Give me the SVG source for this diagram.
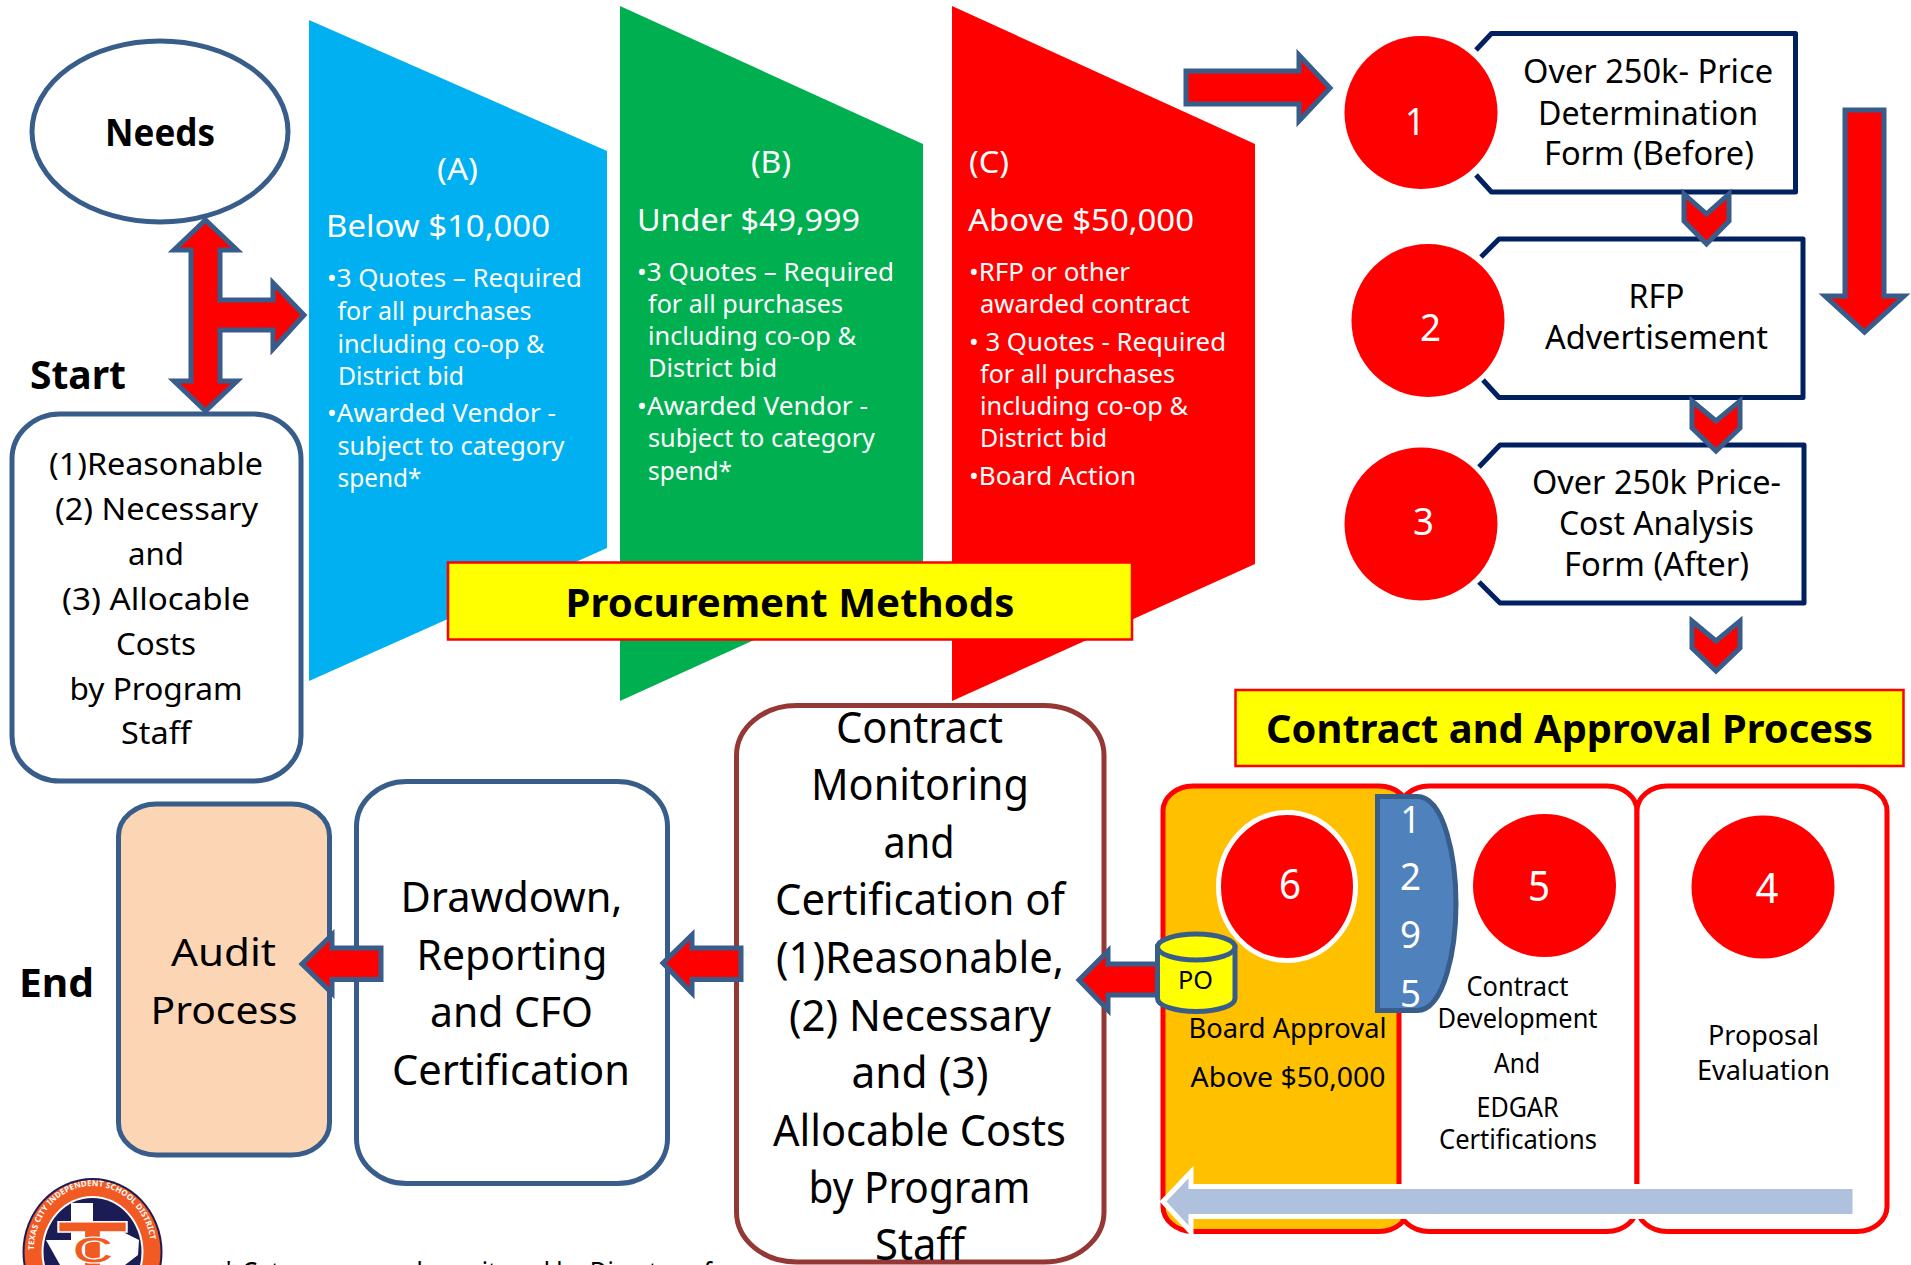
<svg xmlns="http://www.w3.org/2000/svg" width="1911" height="1265" viewBox="0 0 1911 1265">
<style>
text{font-family:"Noto Sans","Open Sans","Liberation Sans",sans-serif;fill:#000}
.w{fill:#fff}
.b{font-weight:700}
.s{fill:#fff;stroke:#385d8a;stroke-width:5}
.arr{fill:#f00;stroke:#385d8a;stroke-width:5}
.nv{fill:#fff;stroke:#002060;stroke-width:5;stroke-linejoin:round}
.pn{stroke:#f00;stroke-width:5}
.lb{fill:#ff0;stroke:#f00;stroke-width:2.5}
.dot{fill:#f00}
.f25{font-size:25px}.f31{font-size:31px}.f30{font-size:30px}.f32{font-size:32px}.f27{font-size:27px}.f39{font-size:39px}.f41{font-size:41px}.f43{font-size:43px}
</style>
<g id="method-a">
<polygon points="309,20 607,151 607,548 309,681" fill="#00b0f0"/>
<text class="w f31" x="437" y="180" textLength="41" lengthAdjust="spacingAndGlyphs">(A)</text>
<text class="w f31" x="326" y="237" textLength="224" lengthAdjust="spacingAndGlyphs">Below $10,000</text>
<g class="f25">
<text class="w" x="327" y="287" textLength="255" lengthAdjust="spacingAndGlyphs">•3 Quotes – Required</text>
<text class="w" x="337.500" y="319.500" textLength="194" lengthAdjust="spacingAndGlyphs">for all purchases</text>
<text class="w" x="337.500" y="352.500" textLength="207" lengthAdjust="spacingAndGlyphs">including co-op &amp;</text>
<text class="w" x="338" y="384.500" textLength="126" lengthAdjust="spacingAndGlyphs">District bid</text>
<text class="w" x="327" y="421.500" textLength="229" lengthAdjust="spacingAndGlyphs">•Awarded Vendor -</text>
<text class="w" x="337.500" y="454.500" textLength="227" lengthAdjust="spacingAndGlyphs">subject to category</text>
<text class="w" x="337.500" y="486.500" textLength="84" lengthAdjust="spacingAndGlyphs">spend*</text>
</g>
</g>
<g id="method-b">
<polygon points="620,6 923,144 923,563 620,701" fill="#00b050"/>
<text class="w f31" x="751" y="173" textLength="40" lengthAdjust="spacingAndGlyphs">(B)</text>
<text class="w f31" x="637" y="230.500" textLength="223" lengthAdjust="spacingAndGlyphs">Under $49,999</text>
<g class="f25">
<text class="w" x="637" y="281" textLength="257" lengthAdjust="spacingAndGlyphs">•3 Quotes – Required</text>
<text class="w" x="648" y="313" textLength="195" lengthAdjust="spacingAndGlyphs">for all purchases</text>
<text class="w" x="648" y="345" textLength="208" lengthAdjust="spacingAndGlyphs">including co-op &amp;</text>
<text class="w" x="648" y="377" textLength="129" lengthAdjust="spacingAndGlyphs">District bid</text>
<text class="w" x="637" y="415" textLength="231" lengthAdjust="spacingAndGlyphs">•Awarded Vendor -</text>
<text class="w" x="648" y="447" textLength="227" lengthAdjust="spacingAndGlyphs">subject to category</text>
<text class="w" x="648" y="480" textLength="84" lengthAdjust="spacingAndGlyphs">spend*</text>
</g>
</g>
<g id="method-c">
<polygon points="952,6 1255,144 1255,564 952,701" fill="#f00"/>
<text class="w f31" x="969" y="173" textLength="40" lengthAdjust="spacingAndGlyphs">(C)</text>
<text class="w f31" x="968" y="230.500" textLength="226" lengthAdjust="spacingAndGlyphs">Above $50,000</text>
<g class="f25">
<text class="w" x="969" y="281" textLength="161" lengthAdjust="spacingAndGlyphs">•RFP or other</text>
<text class="w" x="980" y="313" textLength="210" lengthAdjust="spacingAndGlyphs">awarded contract</text>
<text class="w" x="969" y="351" textLength="257" lengthAdjust="spacingAndGlyphs">• 3 Quotes - Required</text>
<text class="w" x="980" y="383" textLength="195" lengthAdjust="spacingAndGlyphs">for all purchases</text>
<text class="w" x="980" y="415" textLength="208" lengthAdjust="spacingAndGlyphs">including co-op &amp;</text>
<text class="w" x="980" y="447" textLength="127" lengthAdjust="spacingAndGlyphs">District bid</text>
<text class="w" x="969" y="485" textLength="167" lengthAdjust="spacingAndGlyphs">•Board Action</text>
</g>
</g>
<g id="procurement-label">
<rect class="lb" x="448" y="562.500" width="684" height="77"/>
<text class="b f39" x="565.500" y="616.500" textLength="449" lengthAdjust="spacingAndGlyphs">Procurement Methods</text>
</g>
<g id="needs">
<ellipse class="s" cx="160" cy="131.500" rx="128" ry="90.500"/>
<text class="b" font-size="37" x="105" y="146" textLength="110" lengthAdjust="spacingAndGlyphs">Needs</text>
</g>
<text id="start" class="b f39" x="30" y="389" textLength="96" lengthAdjust="spacingAndGlyphs">Start</text>
<g id="allowable-costs">
<rect class="s" x="12" y="414" width="289" height="367" rx="48" ry="45"/>
<g class="f30">
<text x="49" y="475" textLength="214" lengthAdjust="spacingAndGlyphs">(1)Reasonable</text>
<text x="55" y="520" textLength="203" lengthAdjust="spacingAndGlyphs">(2) Necessary</text>
<text x="128" y="565" textLength="56" lengthAdjust="spacingAndGlyphs">and</text>
<text x="62" y="610" textLength="188" lengthAdjust="spacingAndGlyphs">(3) Allocable</text>
<text x="116" y="655" textLength="80" lengthAdjust="spacingAndGlyphs">Costs</text>
<text x="69.500" y="700" textLength="173" lengthAdjust="spacingAndGlyphs">by Program</text>
<text x="121" y="744" textLength="70" lengthAdjust="spacingAndGlyphs">Staff</text>
</g>
</g>
<g id="step-1">
<path class="nv" d="M1476,50 L1491.500,33.500 H1795.500 V192 H1491.500 L1476,175"/>
<circle class="dot" cx="1421" cy="112.500" r="76.500"/>
<text class="w f39" x="1405" y="135" textLength="20" lengthAdjust="spacingAndGlyphs">1</text>
<g class="f32">
<text x="1523" y="83" textLength="250" lengthAdjust="spacingAndGlyphs">Over 250k- Price</text>
<text x="1538" y="124.500" textLength="220" lengthAdjust="spacingAndGlyphs">Determination</text>
<text x="1544" y="164.500" textLength="210" lengthAdjust="spacingAndGlyphs">Form (Before)</text>
</g>
</g>
<g id="step-2">
<path class="nv" d="M1481,257 L1499,239 H1803 V397.500 H1499 L1483,380"/>
<circle class="dot" cx="1428" cy="320.500" r="76.500"/>
<text class="w f39" x="1420" y="341" textLength="21" lengthAdjust="spacingAndGlyphs">2</text>
<g class="f32">
<text x="1628.500" y="308" textLength="56" lengthAdjust="spacingAndGlyphs">RFP</text>
<text x="1545" y="349" textLength="223" lengthAdjust="spacingAndGlyphs">Advertisement</text>
</g>
</g>
<g id="step-3">
<path class="nv" d="M1479,467 L1500,445 H1804 V603 H1500 L1479,582"/>
<circle class="dot" cx="1421" cy="524" r="76.500"/>
<text class="w f39" x="1413" y="535" textLength="21" lengthAdjust="spacingAndGlyphs">3</text>
<g class="f32">
<text x="1532" y="494" textLength="249" lengthAdjust="spacingAndGlyphs">Over 250k Price-</text>
<text x="1559" y="535" textLength="195" lengthAdjust="spacingAndGlyphs">Cost Analysis</text>
<text x="1564" y="576" textLength="185" lengthAdjust="spacingAndGlyphs">Form (After)</text>
</g>
</g>
<g id="contract-label">
<rect class="lb" x="1235.500" y="690" width="668" height="76"/>
<text class="b f39" x="1266" y="743" textLength="607" lengthAdjust="spacingAndGlyphs">Contract and Approval Process</text>
</g>
<g id="panel-6">
<rect class="pn" x="1163" y="786" width="246" height="445.500" rx="30" ry="25" fill="#ffc000"/>
</g>
<g id="panel-5">
<rect class="pn" x="1399" y="786" width="238" height="445.500" rx="30" ry="25" fill="#fff"/>
<circle class="dot" cx="1544.500" cy="885.500" r="71.500"/>
<text class="w f41" x="1528" y="900.500" textLength="22" lengthAdjust="spacingAndGlyphs">5</text>
<g class="f27">
<text x="1466.500" y="996" textLength="102" lengthAdjust="spacingAndGlyphs">Contract</text>
<text x="1437.500" y="1028" textLength="160" lengthAdjust="spacingAndGlyphs">Development</text>
<text x="1494" y="1073" textLength="46" lengthAdjust="spacingAndGlyphs">And</text>
<text x="1476.500" y="1117" textLength="82" lengthAdjust="spacingAndGlyphs">EDGAR</text>
<text x="1439" y="1149" textLength="158" lengthAdjust="spacingAndGlyphs">Certifications</text>
</g>
</g>
<g id="panel-4">
<rect class="pn" x="1637" y="786" width="250" height="445.500" rx="30" ry="25" fill="#fff"/>
<circle class="dot" cx="1763" cy="887" r="71.500"/>
<text class="w f41" x="1755.500" y="902.500" textLength="23" lengthAdjust="spacingAndGlyphs">4</text>
<text class="f27" x="1708" y="1045" textLength="111" lengthAdjust="spacingAndGlyphs">Proposal</text>
<text class="f27" x="1697" y="1080" textLength="133" lengthAdjust="spacingAndGlyphs">Evaluation</text>
</g>
<g id="panel-6-content">
<ellipse cx="1287" cy="886.500" rx="68.500" ry="74" fill="#f00" stroke="#fff" stroke-width="5"/>
<text class="w f41" x="1279" y="899" textLength="22" lengthAdjust="spacingAndGlyphs">6</text>
<text class="f27" x="1188.500" y="1038" textLength="198" lengthAdjust="spacingAndGlyphs">Board Approval</text>
<text class="f27" x="1190.500" y="1086.500" textLength="195" lengthAdjust="spacingAndGlyphs">Above $50,000</text>
</g>
<g id="steps-1295">
<path d="M1377.500,796.500 H1417 C1445,796.500 1456,860 1456,903.500 C1456,947 1445,1010.500 1417,1010.500 H1377.500 Z" fill="#4f81bd" stroke="#385d8a" stroke-width="5"/>
<text class="w f39" x="1400.500" y="833" textLength="20" lengthAdjust="spacingAndGlyphs">1</text>
<text class="w f39" x="1400" y="890" textLength="21" lengthAdjust="spacingAndGlyphs">2</text>
<text class="w f39" x="1400" y="948" textLength="21" lengthAdjust="spacingAndGlyphs">9</text>
<text class="w f39" x="1400" y="1006.500" textLength="21" lengthAdjust="spacingAndGlyphs">5</text>
</g>
<g id="monitoring">
<rect x="736.500" y="705.500" width="367.500" height="556.500" rx="60" ry="50" fill="#fff" stroke="#953735" stroke-width="5"/>
<g class="f43">
<text x="836" y="742.500" textLength="167" lengthAdjust="spacingAndGlyphs">Contract</text>
<text x="811" y="799.500" textLength="218" lengthAdjust="spacingAndGlyphs">Monitoring</text>
<text x="883.500" y="857.500" textLength="71" lengthAdjust="spacingAndGlyphs">and</text>
<text x="775" y="915" textLength="290" lengthAdjust="spacingAndGlyphs">Certification of</text>
<text x="776" y="972.500" textLength="288" lengthAdjust="spacingAndGlyphs">(1)Reasonable,</text>
<text x="789" y="1030.500" textLength="262" lengthAdjust="spacingAndGlyphs">(2) Necessary</text>
<text x="851.500" y="1088" textLength="137" lengthAdjust="spacingAndGlyphs">and (3)</text>
<text x="773" y="1145.500" textLength="293" lengthAdjust="spacingAndGlyphs">Allocable Costs</text>
<text x="808.500" y="1203" textLength="222" lengthAdjust="spacingAndGlyphs">by Program</text>
<text x="875" y="1259.500" textLength="90" lengthAdjust="spacingAndGlyphs">Staff</text>
</g>
</g>
<g id="drawdown">
<rect class="s" x="356.500" y="781.500" width="311" height="402" rx="50" ry="45"/>
<g class="f41">
<text x="400.500" y="911.500" textLength="222" lengthAdjust="spacingAndGlyphs">Drawdown,</text>
<text x="416.500" y="969.500" textLength="191" lengthAdjust="spacingAndGlyphs">Reporting</text>
<text x="430" y="1026.500" textLength="163" lengthAdjust="spacingAndGlyphs">and CFO</text>
<text x="392" y="1084.500" textLength="238" lengthAdjust="spacingAndGlyphs">Certification</text>
</g>
</g>
<g id="audit">
<rect class="s" x="118.500" y="804" width="211" height="351" rx="38" ry="32" style="fill:#fcd5b5"/>
<text class="f39" x="171" y="966" textLength="105" lengthAdjust="spacingAndGlyphs">Audit</text>
<text class="f39" x="150.500" y="1024" textLength="147" lengthAdjust="spacingAndGlyphs">Process</text>
</g>
<text id="end" class="b" font-size="40" x="19" y="997" textLength="75" lengthAdjust="spacingAndGlyphs">End</text>
<g id="connectors">
<path class="arr" d="M205.500,220 L237,250 H220 V300 H273 V283 L304,315 L273,349 V330 H220 V381 H237 L205.500,411 L174,381 H191 V250 H174 Z"/>
<path class="arr" d="M1186,71 H1299 V55 L1330,88 L1299,121 V104 H1186 Z"/>
<path class="arr" d="M1845,110 H1884 V296 H1904 L1864.500,332 L1825,296 H1845 Z"/>
<path class="arr" d="M1684,194 L1706.500,214 L1729,194 V221 L1706.500,244 L1684,221 Z"/>
<path class="arr" d="M1692,401 L1716,421 L1740,401 V428 L1716,451 L1692,428 Z"/>
<path class="arr" d="M1692,621 L1716,641 L1740,621 V648 L1716,671 L1692,648 Z"/>
<path class="arr" d="M1165,964 H1108 V951 L1079,980 L1108,1010 V995 H1165 Z"/>
<path class="arr" d="M741,948 H692 V935 L663,963 L692,993 V979.500 H741 Z"/>
<path class="arr" d="M381,948 H332 V935 L302,964 L332,993 V979.500 H381 Z"/>
<path d="M1855,1186.500 H1191 V1172 L1163,1201.500 L1191,1232 V1216.500 H1855 Z" fill="#b0c1dd" stroke="#fff" stroke-width="5"/>
</g>
<g id="po">
<path d="M1157.500,947 V998.500 A38.700,13 0 0 0 1235,998.500 V947 Z" fill="#ff0" stroke="#385d8a" stroke-width="5"/>
<ellipse cx="1196.250" cy="947" rx="38.700" ry="13" fill="#ff0" stroke="#385d8a" stroke-width="5"/>
<text font-size="26" x="1178" y="989" textLength="35" lengthAdjust="spacingAndGlyphs">PO</text>
</g>
<g id="logo">
<ellipse cx="92.500" cy="1252" rx="70" ry="74" fill="#1b1b55"/>
<ellipse cx="92.500" cy="1252" rx="68" ry="72" fill="#f15a22"/>
<ellipse cx="92.500" cy="1252" rx="51" ry="56" fill="#fff"/>
<ellipse cx="92.500" cy="1252" rx="49" ry="54" fill="#1b1b55"/>
<path d="M71,1203 H93 V1225 L115,1228 L139,1240 L138,1255 L125,1265 H60 L46,1240 L71,1240 Z" fill="#fff"/>
<path id="ring" d="M34,1250 A58.500,64 0 0 1 151,1250" fill="none"/>
<text font-size="8" font-weight="700" style="fill:#fff"><textPath href="#ring" textLength="182" lengthAdjust="spacing">TEXAS CITY INDEPENDENT SCHOOL DISTRICT</textPath></text>
<text x="57" y="1285" font-size="90" font-weight="700" textLength="71" lengthAdjust="spacingAndGlyphs" style="font-family:'Liberation Sans',sans-serif;fill:#f15a22;stroke:#fff;stroke-width:1.500">T</text>
<text x="72" y="1263" font-size="36" font-weight="700" textLength="42" lengthAdjust="spacingAndGlyphs" style="font-family:'Liberation Sans',sans-serif;fill:#f15a22;stroke:#fff;stroke-width:1.200">C</text>
</g>
<text id="footnote" font-size="28" x="222" y="1282" textLength="490" lengthAdjust="spacingAndGlyphs">* Category spend monitored by Director of</text>
</svg>
